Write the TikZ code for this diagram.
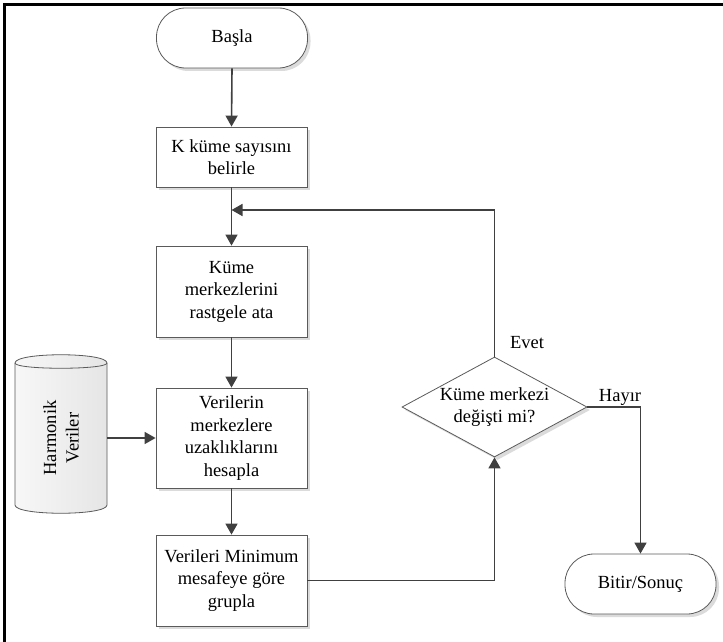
\documentclass[tikz,border=0pt]{standalone}
\usepackage{fontspec}
\setmainfont{Liberation Serif}
\newfontfamily\tmsfont{Liberation Serif}
\usetikzlibrary{shapes.geometric,arrows.meta,shadows}
\definecolor{linec}{HTML}{404040}
\definecolor{boxc}{HTML}{5A5A5A}
\tikzset{
  base/.style={font=\tmsfont\fontsize{18.5}{22.5}\selectfont, align=center},
  procbox/.style={base, draw=boxc, line width=0.8pt, fill=white, minimum width=151pt, inner sep=0pt,
    drop shadow={shadow xshift=3pt, shadow yshift=-3pt, fill=black!14, opacity=1}},
  termbox/.style={procbox, rounded corners=29pt, minimum height=60pt},
  conn/.style={draw=linec, line width=1.6pt, -{Triangle[length=11pt,width=12pt]}},
  lbl/.style={base}
}
\begin{document}
\begin{tikzpicture}[x=1pt,y=-1pt]
\useasboundingbox (0,0) rectangle (723,642);
\draw[line width=3pt] (4.5,642) -- (4.5,4.5) -- (723,4.5);

\node[termbox] (start) at (232,38) {Başla};
\node[procbox, minimum height=60pt] (k) at (231.5,157) {K küme sayısını\\belirle};
\node[procbox, minimum height=91pt] (kume) at (231.5,291.5) {Küme\\merkezlerini\\rastgele ata};
\node[procbox, minimum height=100pt] (ver) at (231.5,438) {Verilerin\\merkezlere\\uzaklıklarını\\hesapla};
\node[procbox, minimum height=91pt] (min) at (231.5,580.5) {Verileri Minimum\\mesafeye göre\\grupla};
\node[termbox] (end) at (640.5,584) {Bitir/Sonuç};

\node[diamond, draw=boxc, line width=0.8pt, fill=white, minimum width=185pt, minimum height=100pt, inner sep=0pt,
  drop shadow={shadow xshift=3pt, shadow yshift=-3pt, fill=black!14, opacity=1}] (dec) at (494.5,407) {};
\node[base] (dect) at (dec.center) {Küme merkezi\\değişti mi?};

% cylinder
\shade[left color=gray!6, right color=gray!20, draw=boxc, line width=0.8pt]
  (15,363) .. controls (15,352) and (107,352) .. (107,363) -- (107,505)
  .. controls (107,516) and (15,516) .. (15,505) -- cycle;
\draw[boxc, line width=0.8pt] (15,363) .. controls (15,370) and (107,370) .. (107,363);
\node[base, rotate=90, minimum width=130pt, minimum height=92pt, inner sep=0pt] (cyl) at (61,438) {Harmonik\\Veriler};

\coordinate (j) at (231.5,210);
\node[lbl] (evet) at (527,343) {Evet};
\node[lbl] (hayir) at (620,397) {Hayır};

\draw[conn] (start.south) -- (k.north);
\draw[conn] (k.south) -- (kume.north);
\draw[conn] (dec.north) |- (j);
\draw[conn] (kume.south) -- (ver.north);
\draw[conn] (cyl.south) -- (ver.west);
\draw[conn] (ver.south) -- (min.north);
\draw[conn] (min.east) -| (dec.south);
\draw[conn] (dec.east) -| (end.north);
\end{tikzpicture}
\end{document}
